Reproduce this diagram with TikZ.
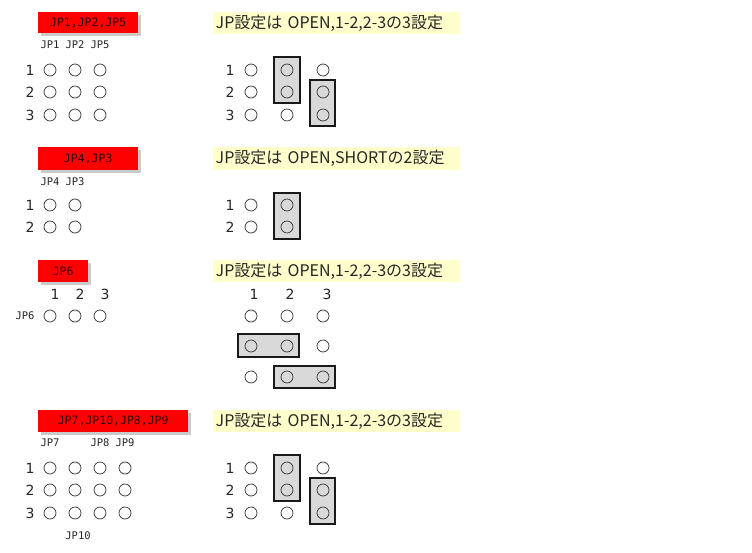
\documentclass[tikz,border=0pt]{standalone}
\usepackage{fontspec}
\setmainfont{DejaVu Sans}
\newfontfamily\jpfont{Noto Sans CJK JP}
\newfontfamily\labfont{DejaVu Sans Mono}
\usetikzlibrary{shadows}
\begin{document}
\begin{tikzpicture}[x=1pt,y=-1pt,
  redbox/.style={fill=red,draw=none,inner sep=0pt,anchor=north west,
    drop shadow={shadow xshift=3pt,shadow yshift=-3pt,opacity=0.35,fill=black!60},
    font=\labfont\fontsize{11.5}{12}\selectfont,text=black!80!red},
  yelbox/.style={fill={rgb,255:red,255;green,255;blue,204},draw=none,inner sep=0pt,anchor=north west,
    minimum width=247pt,minimum height=22pt,text width=242pt,align=left,
    font=\jpfont\fontsize{16}{17}\selectfont,text=black!85},
  pin/.style={circle,draw=black!80,line width=0.7pt,minimum size=12pt,inner sep=0pt},
  num/.style={font=\fontsize{14}{15}\selectfont,text=black!85,inner sep=0pt},
  lab/.style={font=\labfont\fontsize{10.5}{11}\selectfont,text=black!85,inner sep=0pt},
  jumper/.style={draw=black!90,line width=2pt,fill=black!15}]
\useasboundingbox (0,0) rectangle (752,553);
% ---------- Section 1 ----------
\node[redbox,minimum width=100pt,minimum height=21pt] (r1) at (38,12) {JP1,JP2,JP5};
\node[yelbox] (y1) at (213,12) {JP設定は OPEN,1-2,2-3の3設定};
\node[lab] (l1a) at (50,45) {JP1};
\node[lab] (l1b) at (75,45) {JP2};
\node[lab] (l1c) at (100,45) {JP5};
\foreach \r/\y in {1/70,2/92,3/115}{
  \node[num] (n1\r) at (30,\y) {\r};
  \foreach \c/\x in {a/50,b/75,c/100}{\node[pin] (p1\r\c) at (\x,\y) {};}
}
\draw[jumper] (274,57) rectangle (300,103);
\draw[jumper] (310,80) rectangle (335,126);
\foreach \r/\y in {1/70,2/92,3/115}{
  \node[num] (m1\r) at (230,\y) {\r};
  \foreach \c/\x in {a/251,b/287,c/323}{\node[pin] (q1\r\c) at (\x,\y) {};}
}
% ---------- Section 2 ----------
\node[redbox,minimum width=100pt,minimum height=23pt] (r2) at (38,147) {JP4,JP3};
\node[yelbox,minimum height=23pt] (y2) at (213,147) {JP設定は OPEN,SHORTの2設定};
\node[lab] (l2a) at (50,182) {JP4};
\node[lab] (l2b) at (75,182) {JP3};
\draw[jumper] (274,193) rectangle (300,239);
\foreach \r/\y in {1/205,2/227}{
  \node[num] (n2\r) at (30,\y) {\r};
  \foreach \c/\x in {a/50,b/75}{\node[pin] (p2\r\c) at (\x,\y) {};}
  \node[num] (m2\r) at (230,\y) {\r};
  \foreach \c/\x in {a/251,b/287}{\node[pin] (q2\r\c) at (\x,\y) {};}
}
% ---------- Section 3 ----------
\node[redbox,minimum width=50pt,minimum height=22pt] (r3) at (38,260) {JP6};
\node[yelbox] (y3) at (213,260) {JP設定は OPEN,1-2,2-3の3設定};
\node[num] (t3a) at (55,294) {1};
\node[num] (t3b) at (80,294) {2};
\node[num] (t3c) at (105,294) {3};
\node[lab] (l3) at (25,316) {JP6};
\foreach \c/\x in {a/50,b/75,c/100}{\node[pin] (p3\c) at (\x,316) {};}
\node[num] (u3a) at (254,294) {1};
\node[num] (u3b) at (290,294) {2};
\node[num] (u3c) at (327,294) {3};
\draw[jumper] (238,334) rectangle (299,357);
\draw[jumper] (274,366) rectangle (335,388);
\foreach \r/\y in {1/316,2/346,3/377}{
  \foreach \c/\x in {a/251,b/287,c/323}{\node[pin] (q3\r\c) at (\x,\y) {};}
}
% ---------- Section 4 ----------
\node[redbox,minimum width=150pt,minimum height=22pt] (r4) at (38,410) {JP7,JP10,JP8,JP9};
\node[yelbox] (y4) at (213,410) {JP設定は OPEN,1-2,2-3の3設定};
\node[lab] (l4a) at (50,443) {JP7};
\node[lab] (l4c) at (100,443) {JP8};
\node[lab] (l4d) at (125,443) {JP9};
\node[lab] (l4b) at (78,536) {JP10};
\draw[jumper] (274,455) rectangle (300,501);
\draw[jumper] (310,478) rectangle (335,524);
\foreach \r/\y in {1/468,2/490,3/513}{
  \node[num] (n4\r) at (30,\y) {\r};
  \foreach \c/\x in {a/50,b/75,c/100,d/125}{\node[pin] (p4\r\c) at (\x,\y) {};}
  \node[num] (m4\r) at (230,\y) {\r};
  \foreach \c/\x in {a/251,b/287,c/323}{\node[pin] (q4\r\c) at (\x,\y) {};}
}
\end{tikzpicture}
\end{document}
